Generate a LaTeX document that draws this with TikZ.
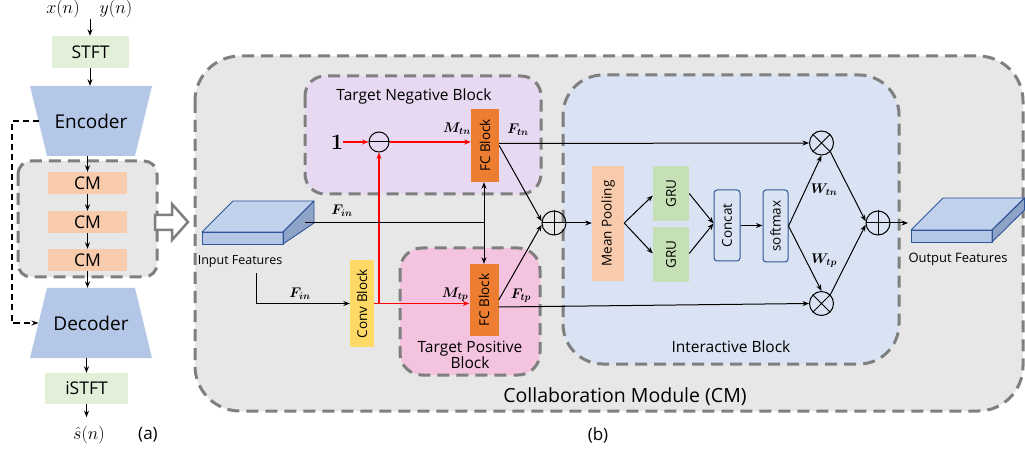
\RequirePackage{fix-cm}
\documentclass[tikz,border=0pt]{standalone}
\usepackage[no-math]{fontspec}
\setmainfont{Open Sans}
\usepackage{bm}
\usetikzlibrary{arrows.meta,calc}
\definecolor{stftg}{HTML}{E2F0D9}
\definecolor{encb}{HTML}{B4C7E7}
\definecolor{cmo}{HTML}{F8CBAD}
\definecolor{bgg}{HTML}{E7E7E7}
\definecolor{dashg}{HTML}{7F7F7F}
\definecolor{negp}{HTML}{E6D9F1}
\definecolor{posp}{HTML}{F4C3DF}
\definecolor{intb}{HTML}{DAE3F3}
\definecolor{fco}{HTML}{ED7D31}
\definecolor{convy}{HTML}{FFD966}
\definecolor{grug}{HTML}{C5E0B4}
\definecolor{cubetop}{HTML}{C0D1EC}
\definecolor{cubefront}{HTML}{B4C7E7}
\definecolor{cubeside}{HTML}{8FA3C8}
\definecolor{cubeedge}{HTML}{2F5597}
\definecolor{boxedge}{HTML}{2F5597}
\definecolor{rline}{HTML}{FF0000}
\newcommand{\fsz}[1]{\fontsize{#1}{#1}\selectfont}
\begin{document}
\begin{tikzpicture}[x=1pt,y=-1pt,
  arr/.style={-{Stealth[length=6.5pt,width=5pt]}, line width=1pt},
  redarr/.style={arr, draw=rline, line width=1.4pt},
  gdash/.style={draw=dashg, line width=3pt, dash pattern=on 12pt off 7pt},
  blk/.style={inner sep=0pt, font=\fsz{13.5}},
  bigt/.style={inner sep=0pt, font=\fsz{17.5}},
  ttl/.style={inner sep=0pt, font=\fsz{15.5}, align=center},
  mlbl/.style={inner sep=0pt, font=\fsz{14}},
  opc/.style={circle, draw, line width=1pt, minimum size=24pt, inner sep=0pt},
  cube/.style={draw=cubeedge, line width=0.9pt, line join=round}
]
\useasboundingbox (0,0) rectangle (1025,454);

% ---------------- part (a) ----------------
\node[inner sep=0pt, font=\fsz{18}] (xn) at (63,9) {$x(n)$};
\node[inner sep=0pt, font=\fsz{18}] (yn) at (116,9) {$y(n)$};
\coordinate (tin) at (90,19);
\node[bigt, fill=stftg, minimum width=77pt, minimum height=32pt] (stft) at (90.5,52) {STFT};
\draw[arr] (tin) -- (tin |- stft.north);

\fill[encb] (30,86) -- (152,86) -- (135,156) -- (47,156) -- cycle;
\node[inner sep=0pt, font=\fsz{19}, minimum width=88pt, minimum height=70pt] (enc) at (91,121) {Encoder};
\draw[arr] (stft.south -| tin) -- (tin |- enc.north);

\filldraw[fill=bgg, gdash, rounded corners=13pt] (18,161) rectangle (157,277);
\node[bigt, fill=cmo, minimum width=79pt, minimum height=22pt] (cm1) at (87.5,183) {CM};
\node[bigt, fill=cmo, minimum width=79pt, minimum height=22pt] (cm2) at (87.5,222) {CM};
\node[bigt, fill=cmo, minimum width=79pt, minimum height=22pt] (cm3) at (87.5,260) {CM};
\draw[arr] (cm1.north |- enc.south) -- (cm1.north);
\draw[arr] (cm1.south) -- (cm2.north);
\draw[arr] (cm2.south) -- (cm3.north);

\fill[encb] (47,288) -- (135,288) -- (152,358) -- (30,358) -- cycle;
\node[inner sep=0pt, font=\fsz{19}, minimum width=88pt, minimum height=70pt] (dec) at (91,323) {Decoder};
\draw[arr] (cm3.south) -- (cm3.south |- dec.north);

\node[bigt, fill=stftg, minimum width=83pt, minimum height=31pt] (ist) at (86.5,388.5) {iSTFT};
\draw[arr] (ist.north |- dec.south) -- (ist.north);
\node[inner sep=0pt, font=\fsz{18}] (shat) at (89,435) {$\hat{s}(n)$};
\draw[arr] (ist.south) -- ($(ist.south)+(0,13)$);
\node[inner sep=0pt, font=\fsz{17}] (la) at (148,435) {(a)};

\coordinate (encl) at (38.5,121);
\coordinate (decl) at (38.5,323);
\draw[line width=1.6pt, dash pattern=on 6pt off 4pt, -{Stealth[length=7pt,width=5pt]}]
  (encl) -- (12,121) -- (12,323) -- (decl);

% hollow arrow
\draw[draw=dashg, line width=2.5pt, fill=white, line join=miter]
  (155,215) -- (172,215) -- (172,204) -- (188,222) -- (172,240) -- (172,230) -- (155,230) -- cycle;

% ---------------- part (b) ----------------
\filldraw[fill=bgg, gdash, rounded corners=45pt] (195,56) rectangle (1023,411);
\filldraw[fill=negp, gdash, rounded corners=20pt] (305,76) rectangle (541,194);
\filldraw[fill=posp, gdash, rounded corners=22pt] (400,248) rectangle (540,375);
\filldraw[fill=intb, gdash, rounded corners=40pt] (563,75) rectangle (899,364);

\node[ttl] (tnb) at (414,96) {Target Negative Block};
\node[ttl] (tpb) at (470,355) {Target Positive\\[0pt]Block};
\node[ttl] (ib) at (731,347) {Interactive Block};
\node[inner sep=0pt, font=\fsz{19.5}] (cmt) at (625,397) {Collaboration Module (CM)};
\node[inner sep=0pt, font=\fsz{17}] (lb) at (598,435) {(b)};

% input cube
\fill[cubetop] (202,232) -- (233,201) -- (314,201) -- (283,232) -- cycle;
\fill[cubefront] (202,232) rectangle (283,244);
\fill[cubeside] (283,232) -- (314,201) -- (314,223) -- (283,244) -- cycle;
\draw[cube] (202,232) -- (233,201) -- (314,201) -- (283,232) -- cycle;
\draw[cube] (202,232) rectangle (283,244);
\draw[cube] (283,232) -- (314,201) -- (314,223) -- (283,244) -- cycle;
\node[inner sep=0pt, font=\fsz{12.5}] (inf) at (240,262) {Input Features};
\coordinate (cin) at (305,223);

% output cube
\fill[cubetop] (911,230) -- (943,198) -- (1025,198) -- (992,230) -- cycle;
\fill[cubefront] (911,230) rectangle (992,242);
\fill[cubeside] (992,230) -- (1025,198) -- (1025,210) -- (992,242) -- cycle;
\draw[cube] (911,230) -- (943,198) -- (1024.5,198) -- (992,230) -- cycle;
\draw[cube] (911,230) rectangle (992,242);
\draw[cube] (992,230) -- (1024.5,198) -- (1024.5,210) -- (992,242) -- cycle;
\node[inner sep=0pt, font=\fsz{13}] (outf) at (958,259) {Output Features};
\coordinate (cout) at (908,223);

% negative branch
\node[inner sep=0pt, font=\fsz{22}] (one) at (337,142) {$\bm{1}$};
\node[opc, minimum size=20pt] (minus) at (379,142) {};
\draw[line width=1pt] (minus.west) -- (minus.east);
\node[blk, fill=fco, minimum width=28pt, minimum height=73pt] (fct) at (485,145.5) {\rotatebox{90}{FC Block}};
\draw[redarr] (one.east) -- (minus.west);
\draw[redarr] (minus.east) -- (fct.west |- minus.east);
\node[mlbl] (mtn) at (457,129) {$\bm{M_{tn}}$};
\node[mlbl] (ftn) at (518,130) {$\bm{F_{tn}}$};

% positive branch
\node[blk, fill=convy, minimum width=24pt, minimum height=87pt] (conv) at (362,303.5) {\rotatebox{90}{Conv Block}};
\node[blk, fill=fco, minimum width=29pt, minimum height=72pt] (fcb) at (484,300) {\rotatebox{90}{FC Block}};
\node[mlbl] (mtp) at (455,295) {$\bm{M_{tp}}$};
\node[mlbl] (ftp) at (521,296) {$\bm{F_{tp}}$};
\coordinate (infd) at (256,273);
\draw[arr] (infd) -- (infd |- conv.west) -- (conv.west);
\node[mlbl] (fin2) at (300,294) {$\bm{F_{in}}$};
\coordinate (rb) at (379,303.5);
\draw[redarr] (conv.east) -- (fcb.west |- conv.east);
\draw[redarr] (rb) -- (minus.south);

% Fin to FC blocks
\coordinate (jn) at (484,223);
\draw[line width=1pt] (cin) -- (jn);
\node[mlbl] (fin1) at (342,211) {$\bm{F_{in}}$};
\draw[arr] (jn) -- (jn |- fct.south);
\draw[arr] (jn) -- (jn |- fcb.north);

% sum 1
\node[opc] (sum1) at (554,223) {};
\draw[line width=1pt] (sum1.west) -- (sum1.east) (sum1.north) -- (sum1.south);
\draw[arr] (fct.east) -- (sum1.172);
\draw[arr] (fcb.east) -- (sum1.188);

% interactive block
\node[blk, fill=cmo, minimum width=32pt, minimum height=115pt] (mp) at (608,223.5) {\rotatebox{90}{Mean Pooling}};
\node[blk, fill=grug, minimum width=36pt, minimum height=55pt] (gru1) at (671,193.5) {\rotatebox{90}{GRU}};
\node[blk, fill=grug, minimum width=36pt, minimum height=55pt] (gru2) at (671,254.5) {\rotatebox{90}{GRU}};
\node[blk, draw=boxedge, line width=1pt, rounded corners=3pt, minimum width=26pt, minimum height=71pt] (cat) at (727,225.5) {\rotatebox{90}{Concat}};
\node[blk, draw=boxedge, line width=1pt, rounded corners=3pt, minimum width=25pt, minimum height=72pt] (smx) at (775.5,226) {\rotatebox{90}{softmax}};
\draw[arr] (sum1.east) -- (mp.west |- sum1.east);
\draw[arr] (mp.east |- sum1.east) -- ($(gru1.west)+(0,2)$);
\draw[arr] (mp.east |- sum1.east) -- ($(gru2.west)+(0,-1)$);
\draw[arr] ($(gru1.east)+(0,0)$) -- ($(cat.west)+(0,-2)$);
\draw[arr] ($(gru2.east)+(0,-1)$) -- ($(cat.west)+(0,-2)$);
\draw[arr] (cat.east) -- (smx.west |- cat.east);

\node[opc] (mul1) at (821.5,143) {};
\node[opc] (mul2) at (821.5,303.5) {};
\draw[line width=1pt] (mul1.north west) -- (mul1.south east) (mul1.north east) -- (mul1.south west);
\draw[line width=1pt] (mul2.north west) -- (mul2.south east) (mul2.north east) -- (mul2.south west);
\draw[arr] ($(fct.east)+(0,-2)$) -- (mul1.west);
\draw[arr] ($(fcb.east)+(0,7)$) -- (mul2.west);
\draw[arr] (smx.east) -- (mul1.south);
\draw[arr] (smx.east) -- (mul2.north);
\node[mlbl] (wtn) at (824,190) {$\bm{W_{tn}}$};
\node[mlbl] (wtp) at (824,261) {$\bm{W_{tp}}$};

\node[opc] (sum2) at (878,223) {};
\draw[line width=1pt] (sum2.west) -- (sum2.east) (sum2.north) -- (sum2.south);
\draw[arr] (mul1.south east) -- (sum2.172);
\draw[arr] (mul2.north east) -- (sum2.188);
\draw[arr] (sum2.east) -- (cout);
\end{tikzpicture}
\end{document}
